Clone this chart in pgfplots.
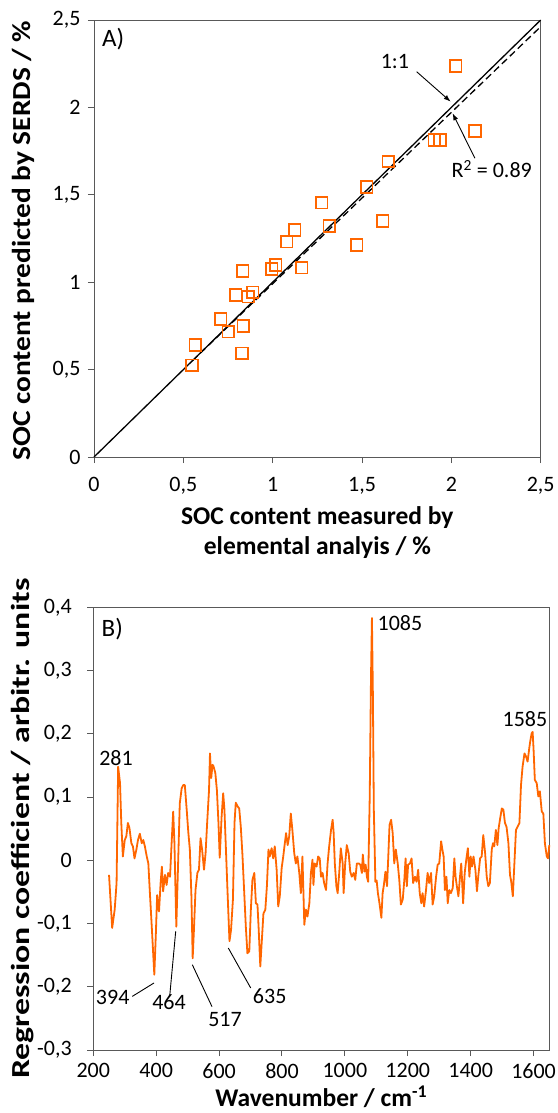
\documentclass[border=0pt]{standalone}
\usepackage{fontspec}
\setmainfont{Carlito}
\usepackage{graphicx}
\usepackage{pgfplots}
\pgfplotsset{compat=1.18}
\usetikzlibrary{arrows.meta}
\definecolor{orng}{RGB}{255,102,0}
\definecolor{axgray}{RGB}{89,89,89}
\newcommand{\tickfont}{\fontsize{22}{26}\selectfont}
\newcommand{\labfont}{\fontsize{25.5}{30}\selectfont\bfseries}
\newcommand{\ylabfont}{\fontsize{26}{30}\selectfont\bfseries}
\newcommand{\annfont}{\fontsize{22}{26}\selectfont}
\newcommand{\panfont}{\fontsize{25}{30}\selectfont}
\pgfplotsset{
  myaxis/.style={
    scale only axis,
    axis line style={axgray, line width=1pt},
    every tick/.style={axgray, line width=1pt},
    tick align=outside,
    major tick length=6pt,
    tick label style={font=\tickfont},
    /pgf/number format/use comma,
    /pgf/number format/assume math mode=true,
    /pgf/number format/1000 sep={},
    xtick pos=bottom, ytick pos=left,
    clip=false,
  }
}
\begin{document}
\begin{tikzpicture}
\path[use as bounding box] (0pt,0pt) rectangle (557pt,-1113pt);
% ---------------- Panel A ----------------
\begin{axis}[myaxis,
  at={(94pt,-457pt)}, anchor=south west,
  width=446.7pt, height=437pt,
  xmin=0, xmax=2.5, ymin=0, ymax=2.5,
  xtick={0,0.5,1,1.5,2,2.5}, ytick={0,0.5,1,1.5,2,2.5},
  xticklabel style={yshift=-11pt},
  yticklabel style={xshift=-4pt},
  xlabel={SOC content measured by\\elemental analyis / \%},
  xlabel style={font=\labfont, align=center, at={(axis description cs:0.5,-0.172)}, anchor=center},
  ylabel={\scalebox{1.13}[1]{SOC content predicted by SERDS / \%}},
  ylabel style={font=\ylabfont, at={(axis description cs:-0.157,0.495)}, anchor=center},
]
\addplot[black, line width=1.3pt] coordinates {(0,0) (2.5,2.5)};
\addplot[black, line width=1.3pt, dash pattern=on 7pt off 4pt] coordinates {(0.55,0.550) (2.5,2.462)};
\addplot[only marks, mark=square, mark size=5.8pt, mark options={draw=orng, line width=1.8pt, fill=none}] coordinates {
(2.024,2.237) (2.132,1.865) (1.905,1.813) (1.936,1.813) (1.647,1.691)
(1.526,1.545) (1.274,1.455) (1.317,1.321) (1.616,1.350) (1.123,1.299)
(1.078,1.232) (1.470,1.213) (0.832,1.064) (0.994,1.076) (1.017,1.098)
(1.162,1.083) (0.793,0.927) (0.864,0.917) (0.888,0.942) (0.709,0.789)
(0.752,0.717) (0.836,0.749) (0.828,0.593) (0.567,0.641) (0.548,0.525)
};
\node[font=\annfont] at (axis cs:1.684,2.26) {1:1};
\draw[black, line width=0.9pt, -{Latex[length=7pt,width=5pt]}] (axis cs:1.806,2.204) -- (axis cs:1.996,2.033);
\node[font=\annfont] at (axis cs:2.226,1.648) {R\textsuperscript{2} = 0.89};
\draw[black, line width=0.9pt, -{Latex[length=7pt,width=5pt]}] (axis cs:2.132,1.709) -- (axis cs:2.007,1.966);
\node[font=\panfont, anchor=north west, inner sep=0pt] at (rel axis cs:0.018,0.982) {A)};
\end{axis}
% ---------------- Panel B ----------------
\begin{axis}[myaxis,
  at={(93.3pt,-1050pt)}, anchor=south west,
  width=456pt, height=442.7pt,
  xmin=200, xmax=1650, ymin=-0.3, ymax=0.4,
  xtick={200,400,...,1600},
  ytick={-0.3,-0.2,-0.1,0,0.1,0.2,0.3,0.4},
  xticklabel style={yshift=-4pt},
  yticklabel style={xshift=-12pt, /pgf/number format/fixed},
  xlabel={Wavenumber / cm\textsuperscript{-1}},
  xlabel style={font=\labfont, at={(axis description cs:0.5,-0.105)}, anchor=center},
  ylabel={\scalebox{1.3}[1]{Regression coefficient / arbitr. units}},
  ylabel style={font=\ylabfont, at={(axis description cs:-0.155,0.5)}, anchor=center},
]
\addplot[orng, line width=1.8pt, line join=round] coordinates {
(250,-0.023) (260,-0.107) (268,-0.078) (274,-0.036) (279,0.148) (285,0.122) (289,0.059) (294,0.006)
(300,0.032) (305,0.038) (310,0.059) (315,0.051) (321,0.027) (326,0.022) (331,0.003) (337,0.017)
(342,0.032) (348,0.042) (354,0.027) (359,0.032) (364,0.022) (370,0.006) (375,-0.005) (380,-0.052)
(387,-0.115) (394,-0.181) (399,-0.115) (403,-0.055) (409,-0.081) (414,-0.036) (418,-0.010) (422,-0.049)
(428,-0.023) (433,-0.039) (438,-0.020) (444,-0.026) (449,0.027) (454,0.077) (458,0.027) (464,-0.105)
(470,0.001) (475,0.090) (481,0.114) (486,0.119) (491,0.119) (497,0.080) (502,0.045) (507,0.017)
(512,-0.057) (516,-0.155) (520,-0.110) (525,-0.047) (531,-0.020) (536,-0.015) (541,0.035) (546,0.017)
(552,-0.015) (557,0.011) (562,0.059) (568,0.111) (571,0.169) (575,0.130) (579,0.151) (582,0.149)
(588,0.138) (593,0.111) (598,0.059) (602,0.004) (608,0.069) (613,0.106) (617,0.080) (621,0.027)
(627,-0.052) (633,-0.128) (638,-0.110) (644,-0.062) (649,0.059) (653,0.091) (659,0.085) (664,0.082)
(669,0.053) (674,0.011) (680,-0.052) (685,-0.105) (690,-0.147) (696,-0.144) (701,-0.078) (706,-0.031)
(712,-0.020) (717,-0.068) (722,-0.070) (726,-0.110) (731,-0.168) (736,-0.126) (741,-0.084) (747,-0.078)
(752,-0.041) (757,0.017) (761,0.006) (767,0.019) (772,0.003) (777,0.022) (783,-0.015) (788,-0.073)
(793,-0.057) (799,-0.012) (804,0.006) (809,0.027) (813,0.043) (818,0.024) (823,0.038) (828,0.074)
(833,0.048) (839,0.011) (844,-0.005) (849,0.006) (855,-0.020) (860,-0.052) (865,0.006) (871,-0.102)
(876,-0.078) (881,-0.089) (887,-0.068) (892,-0.020) (897,0.001) (900,-0.039) (904,-0.005) (910,-0.010)
(915,0.006) (920,0.003) (924,-0.026) (929,-0.020) (934,-0.036) (940,-0.047) (945,-0.005) (950,0.022)
(956,0.048) (961,0.064) (964,0.046) (968,-0.005) (973,-0.041) (977,-0.052) (982,-0.020) (987,0.019)
(993,-0.005) (996,-0.052) (1001,-0.005) (1006,0.024) (1012,0.011) (1017,-0.018) (1022,-0.026) (1028,-0.020)
(1033,-0.031) (1038,-0.005) (1044,-0.005) (1049,-0.007) (1054,-0.020) (1057,0.009) (1062,-0.018) (1066,-0.007)
(1070,-0.026) (1074,-0.034) (1079,0.101) (1083,0.290) (1086,0.383) (1089,0.264) (1092,0.080) (1097,-0.034)
(1101,-0.032) (1105,-0.052) (1110,-0.068) (1116,-0.091) (1120,-0.052) (1124,-0.039) (1129,-0.018) (1134,-0.041)
(1138,0.006) (1142,0.056) (1147,0.064) (1152,0.043) (1157,-0.005) (1162,0.017) (1168,-0.005) (1173,-0.031)
(1178,-0.070) (1184,-0.062) (1189,-0.031) (1193,0.003) (1197,-0.041) (1201,-0.007) (1207,-0.005) (1212,0.003)
(1217,-0.036) (1223,-0.026) (1228,-0.034) (1233,-0.015) (1238,-0.052) (1243,-0.068) (1247,-0.052) (1252,-0.073)
(1258,-0.047) (1263,-0.020) (1268,-0.036) (1274,-0.020) (1279,-0.070) (1284,-0.057) (1290,-0.026) (1295,-0.007)
(1300,-0.005) (1306,0.030) (1310,0.017) (1314,0.006) (1318,-0.047) (1323,-0.026) (1327,-0.068) (1332,-0.047)
(1337,-0.052) (1343,-0.044) (1348,0.003) (1352,-0.026) (1356,-0.041) (1361,-0.057) (1366,-0.026) (1370,-0.005)
(1376,-0.068) (1381,-0.020) (1386,0.001) (1391,0.019) (1396,-0.026) (1400,0.006) (1404,-0.010) (1409,0.006)
(1415,-0.015) (1420,-0.049) (1424,-0.026) (1430,0.003) (1435,0.006) (1440,0.040) (1446,0.011) (1451,-0.026)
(1456,-0.041) (1461,-0.036) (1467,0.017) (1471,0.027) (1475,0.022) (1480,0.048) (1485,0.024) (1489,0.051)
(1494,0.067) (1499,0.082) (1504,0.080) (1509,0.059) (1514,0.053) (1520,0.027) (1525,-0.023) (1529,-0.034)
(1534,-0.057) (1539,-0.005) (1544,0.048) (1549,0.053) (1555,0.059) (1560,0.119) (1565,0.148) (1571,0.169)
(1576,0.164) (1581,0.156) (1587,0.180) (1590,0.190) (1594,0.201) (1597,0.203) (1600,0.175) (1604,0.127)
(1610,0.122) (1615,0.101) (1620,0.109) (1626,0.077) (1631,0.074) (1636,0.027) (1642,0.006) (1646,0.003)
(1650,0.024)
};
\node[font=\panfont, anchor=north west, inner sep=0pt] at (rel axis cs:0.018,0.975) {B)};
\node[font=\annfont] at (axis cs:1175,0.3747) {1085};
\node[font=\annfont] at (axis cs:1572.6,0.2235) {1585};
\node[font=\annfont] at (axis cs:272.2,0.1615) {281};
\node[font=\annfont] at (axis cs:261.7,-0.2172) {394};
\node[font=\annfont] at (axis cs:440.7,-0.2251) {464};
\node[font=\annfont] at (axis cs:618.8,-0.252) {517};
\node[font=\annfont] at (axis cs:760.9,-0.2152) {635};
\draw[black, line width=0.9pt] (axis cs:324,-0.2152) -- (axis cs:393,-0.194);
\draw[black, line width=0.9pt] (axis cs:442.9,-0.2152) -- (axis cs:462,-0.1125);
\draw[black, line width=0.9pt] (axis cs:514.8,-0.1651) -- (axis cs:577.4,-0.2314);
\draw[black, line width=0.9pt] (axis cs:629.3,-0.1387) -- (axis cs:700.5,-0.2019);
\end{axis}
\end{tikzpicture}
\end{document}
